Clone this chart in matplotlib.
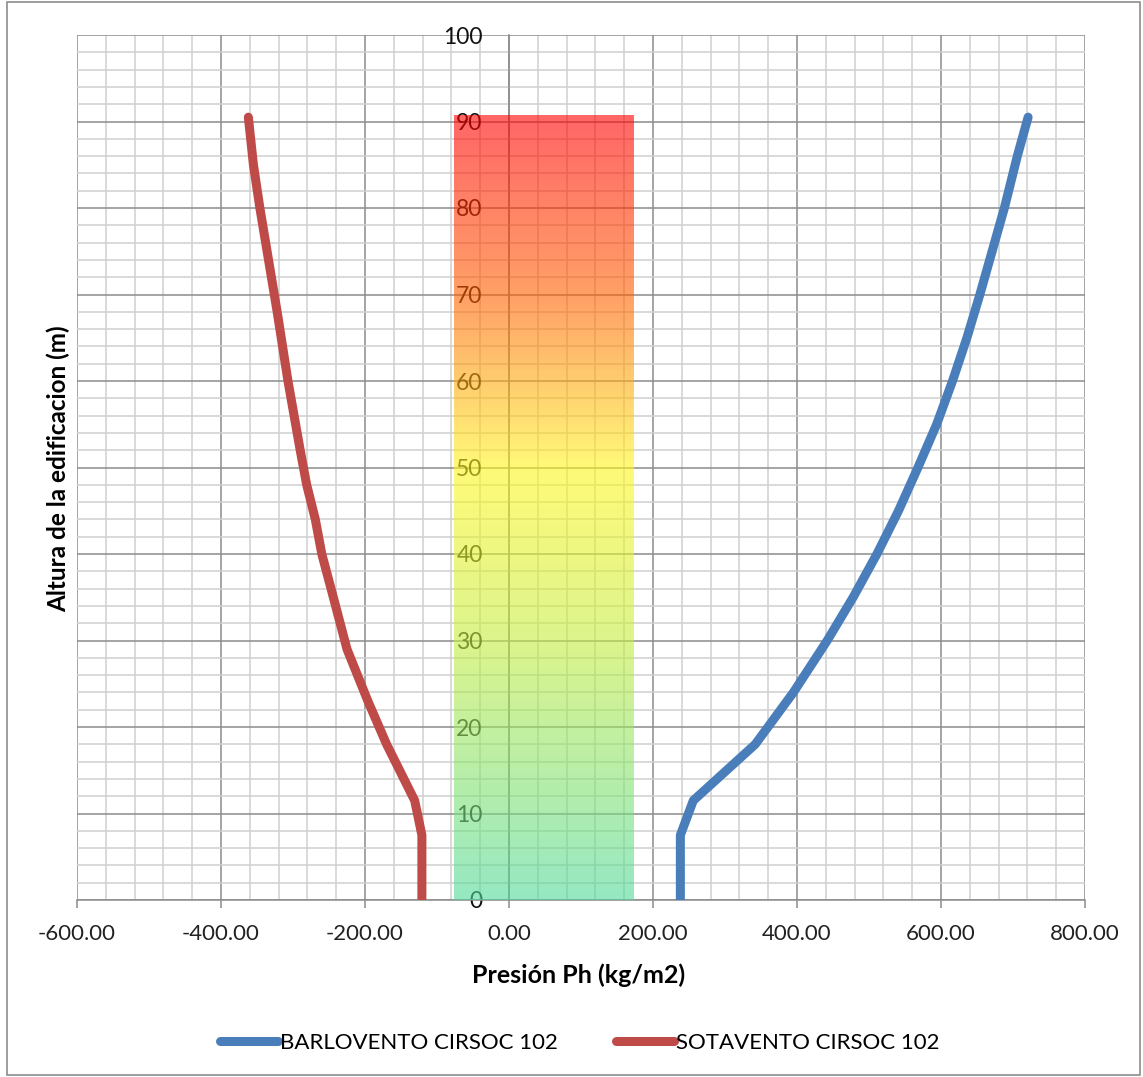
import matplotlib

matplotlib.use("Agg")
import matplotlib.pyplot as plt  # noqa: E402
import numpy as np  # noqa: E402
from matplotlib.colors import LinearSegmentedColormap  # noqa: E402
from matplotlib.patches import Rectangle  # noqa: E402
from matplotlib.ticker import MultipleLocator, FormatStrFormatter  # noqa: E402

plt.rcParams["font.family"] = ["Lato", "DejaVu Sans"]

# data
barlovento_h = [0, 7.5, 11.5, 18, 24, 30, 35, 40, 45, 50, 55, 60, 65, 70, 80, 86, 90.5]
barlovento_p = [238, 238, 256, 342, 395, 442, 478, 511, 541, 568, 594, 616, 636, 654, 688, 706, 721]
sotavento_h = [0, 7.5, 11.5, 18, 23, 29, 35, 40, 44, 48, 52, 60, 68, 73, 80, 85, 90.5]
sotavento_p = [-121, -121, -131, -170, -196, -225, -244, -260, -269, -281, -290, -307, -322,
               -332, -346, -355, -362]
band_x = [-76, 174]
band_h = [0, 90.75]
series_labels = ["BARLOVENTO CIRSOC 102", "SOTAVENTO CIRSOC 102"]

fig = plt.figure(figsize=(11.43, 10.77), dpi=100)
ax = fig.add_axes([77 / 1143, 177 / 1077, 1008 / 1143, 865 / 1077])

# gradient band (semi-transparent, drawn over grid and y labels like the original)
cmap = LinearSegmentedColormap.from_list("band", [
    (0.0, (80 / 255, 217 / 255, 155 / 255)),
    (0.33, (197 / 255, 238 / 255, 63 / 255)),
    (0.55, (1.0, 247 / 255, 30 / 255)),
    (0.77, (1.0, 97 / 255, 0.0)),
    (1.0, (1.0, 0.0, 0.0)),
])
grad = np.linspace(0, 1, 256).reshape(-1, 1)
ax.imshow(grad, cmap=cmap, origin="lower", aspect="auto", alpha=0.6, zorder=3,
          extent=[band_x[0], band_x[1], band_h[0], band_h[1]])

ax.plot(barlovento_p, barlovento_h, color="#4a7ebb", lw=6.5, solid_capstyle="round",
        solid_joinstyle="round", zorder=4, label=series_labels[0])
ax.plot(sotavento_p, sotavento_h, color="#be4b48", lw=6.5, solid_capstyle="round",
        solid_joinstyle="round", zorder=4, label=series_labels[1])

ax.set_xlim(-600, 800)
ax.set_ylim(0, 100)
ax.xaxis.set_major_locator(MultipleLocator(200))
ax.xaxis.set_minor_locator(MultipleLocator(40))
ax.yaxis.set_major_locator(MultipleLocator(10))
ax.yaxis.set_minor_locator(MultipleLocator(2))
ax.xaxis.set_major_formatter(FormatStrFormatter("%.2f"))

ax.grid(which="major", color="#8c8c8c", lw=1.1)
ax.grid(which="minor", color="#cfcfcf", lw=1.1)
ax.set_axisbelow(True)

for s in ["top", "right"]:
    ax.spines[s].set_visible(False)
ax.spines["left"].set_position(("data", 0))
ax.spines["left"].set_color("#8c8c8c")
ax.spines["bottom"].set_color("#8c8c8c")
ax.spines["left"].set_linewidth(1.1)
ax.spines["bottom"].set_linewidth(1.1)

ax.tick_params(axis="y", which="both", length=0, pad=19, labelsize=16.5, labelcolor="#111111")
ax.tick_params(axis="x", which="major", length=6, width=1.1, color="#8c8c8c", pad=11,
               labelsize=16, labelcolor="#222222")
ax.tick_params(axis="x", which="minor", length=0)

fig.text(579 / 1143, 1 - 975 / 1077, "Presión Ph (kg/m2)", ha="center", va="center",
         fontsize=18, fontweight="bold")
fig.text(58 / 1143, 1 - 469 / 1077, "Altura de la edificacion (m)", ha="center", va="center",
         rotation=90, fontsize=17.5, fontweight="bold")

fig.legend(loc="center", bbox_to_anchor=(580 / 1143, 1 - 1043 / 1077), ncol=2, frameon=False,
           fontsize=16, handlelength=2.6, handletextpad=0.1, columnspacing=2.6)

fig.patches.append(Rectangle((7 / 1143, 2 / 1077), 1133 / 1143, 1073 / 1077,
                             transform=fig.transFigure, fill=False, edgecolor="#8c8c8c",
                             lw=1.2))

fig.savefig("out.png", dpi=100)
